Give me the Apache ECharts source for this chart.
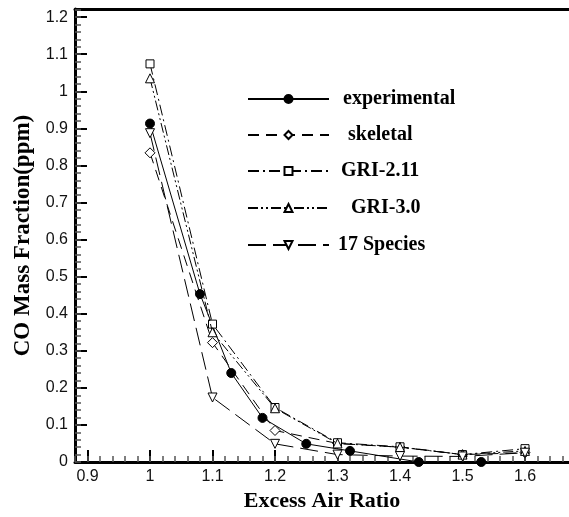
<!DOCTYPE html>
<html>
<head>
<meta charset="utf-8">
<script src="https://cdn.jsdelivr.net/npm/echarts@6/dist/echarts.min.js"></script>
<style>html,body{margin:0;padding:0;background:#fff}#c{width:569px;height:517px}</style>
</head>
<body>
<div id="c"></div>
<script>
// ---- data ----
var xExperimental = [1.0, 1.08, 1.13, 1.18, 1.25, 1.32, 1.43, 1.53];
var yExperimental = [0.913, 0.453, 0.24, 0.119, 0.049, 0.03, 0.0, 0.0];
var xModel = [1.0, 1.1, 1.2, 1.3, 1.4, 1.5, 1.6];
var ySkeletal = [0.834, 0.322, 0.085, 0.05, 0.04, 0.02, 0.025];
var yGRI211 = [1.074, 0.372, 0.147, 0.052, 0.041, 0.02, 0.036];
var yGRI30 = [1.035, 0.35, 0.145, 0.05, 0.04, 0.02, 0.03];
var y17Species = [0.887, 0.174, 0.049, 0.02, 0.016, 0.015, 0.025];
var xTicks = [0.9, 1.0, 1.1, 1.2, 1.3, 1.4, 1.5, 1.6];
var yTicks = [0, 0.1, 0.2, 0.3, 0.4, 0.5, 0.6, 0.7, 0.8, 0.9, 1.0, 1.1, 1.2];
var seriesNames = ['experimental', 'skeletal', 'GRI-2.11', 'GRI-3.0', '17 Species'];

function pairs(xs, ys) { return xs.map(function (x, i) { return [x, ys[i]]; }); }
function minorFrom(start, end, step) {
  var out = [];
  for (var i = 0; ; i++) {
    var v = Math.round((start + i * step) * 1000) / 1000;
    if (v > end + 1e-9) break;
    out.push(v);
  }
  return out;
}
function fmt(v) { return String(Math.round(v * 10) / 10); }

var xMinor = minorFrom(0.88, 1.67, 0.02);
var yMinor = minorFrom(0, 1.22, 0.02);

var serif = '"Liberation Serif", "Times New Roman", serif';
var sans = '"Liberation Sans", Arial, sans-serif';

var chart = echarts.init(document.getElementById('c'), null, { renderer: 'canvas' });

var styles = [
  { symbol: 'circle', size: 9, rotate: 0, fill: '#000', dash: 'solid' },
  { symbol: 'diamond', size: 10, rotate: 0, fill: '#fff', dash: [11, 7] },
  { symbol: 'rect', size: 8, rotate: 0, fill: '#fff', dash: [11, 4, 2, 4] },
  { symbol: 'triangle', size: 9, rotate: 0, fill: '#fff', dash: [10, 3, 2, 3, 2, 3] },
  { symbol: 'triangle', size: 9, rotate: 180, fill: '#fff', dash: [18, 7] }
];
var seriesData = [
  pairs(xExperimental, yExperimental),
  pairs(xModel, ySkeletal),
  pairs(xModel, yGRI211),
  pairs(xModel, yGRI30),
  pairs(xModel, y17Species)
];

var legendTops = [89, 125, 161, 198, 235];
var legendPads = [9, 14, 7, 17, 4];

var option = {
  animation: false,
  backgroundColor: '#fff',
  grid: { left: 75, right: 0, top: 9, bottom: 51, containLabel: false },
  legend: seriesNames.map(function (n, i) {
    return {
      data: [n], left: 247, top: legendTops[i], orient: 'vertical', padding: 0,
      itemWidth: 81, itemHeight: 10, selectedMode: false,
      textStyle: { fontFamily: serif, fontWeight: 'bold', fontSize: 20, color: '#000', padding: [0, 0, 0, legendPads[i]] }
    };
  }),
  xAxis: [
    {
      type: 'value', min: 0.88, max: 1.6704, position: 'bottom',
      name: 'Excess Air Ratio', nameLocation: 'middle', nameGap: 28,
      nameTextStyle: { fontFamily: serif, fontWeight: 'bold', fontSize: 22, color: '#000' },
      axisLine: { show: true, onZero: false, lineStyle: { color: '#000', width: 3 } },
      axisTick: { show: true, inside: true, length: 12, customValues: xTicks, lineStyle: { color: '#000', width: 2 } },
      axisLabel: { show: true, customValues: xTicks, formatter: fmt, margin: 7, fontFamily: sans, fontSize: 16, color: '#111' },
      splitLine: { show: false }
    },
    {
      type: 'value', min: 0.88, max: 1.6704, position: 'bottom',
      axisLine: { show: false },
      axisTick: { show: true, inside: true, length: 6, customValues: xMinor, lineStyle: { color: '#555', width: 1.5 } },
      axisLabel: { show: false }, splitLine: { show: false }
    },
    {
      type: 'value', min: 0.88, max: 1.6704, position: 'top',
      axisLine: { show: true, onZero: false, lineStyle: { color: '#000', width: 3 } },
      axisTick: { show: false }, axisLabel: { show: false }, splitLine: { show: false }
    }
  ],
  yAxis: [
    {
      type: 'value', min: 0, max: 1.222, position: 'left',
      name: 'CO Mass Fraction(ppm)', nameLocation: 'middle', nameGap: 40, nameRotate: 90,
      nameTextStyle: { fontFamily: serif, fontWeight: 'bold', fontSize: 23, color: '#000' },
      axisLine: { show: true, onZero: false, lineStyle: { color: '#000', width: 3 } },
      axisTick: { show: true, inside: true, length: 12, customValues: yTicks, lineStyle: { color: '#000', width: 2 } },
      axisLabel: { show: true, customValues: yTicks, formatter: fmt, margin: 7, fontFamily: sans, fontSize: 16, color: '#111' },
      splitLine: { show: false }
    },
    {
      type: 'value', min: 0, max: 1.222, position: 'left',
      axisLine: { show: false },
      axisTick: { show: true, inside: true, length: 6, customValues: yMinor, lineStyle: { color: '#555', width: 1.5 } },
      axisLabel: { show: false }, splitLine: { show: false }
    }
  ],
  series: seriesNames.map(function (n, i) {
    var s = styles[i];
    return {
      name: n, type: 'line', xAxisIndex: 0, yAxisIndex: 0,
      data: seriesData[i], clip: false,
      symbol: s.symbol, symbolSize: s.size, symbolRotate: s.rotate, showSymbol: true,
      lineStyle: { color: '#000', width: 1, type: s.dash },
      itemStyle: { color: s.fill, borderColor: '#000', borderWidth: 1 },
      emphasis: { disabled: true }, z: 3 + i
    };
  })
};
chart.setOption(option);
</script>
</body>
</html>
